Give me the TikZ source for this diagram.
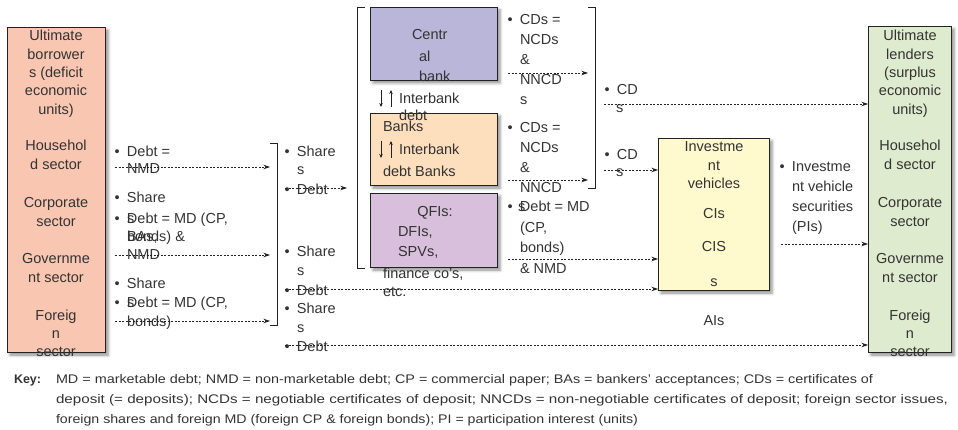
\documentclass[tikz,border=0pt]{standalone}
\usepackage{fontspec}
\setmainfont{Liberation Sans}
\usepackage{graphicx}
\usetikzlibrary{arrows.meta,shadows.blur}
\definecolor{txt}{HTML}{333333}
\definecolor{lc}{HTML}{222222}
\definecolor{cBorrow}{HTML}{F9C6B1}
\definecolor{cLend}{HTML}{DFEBCE}
\definecolor{cCentral}{HTML}{B9B6DA}
\definecolor{cBanks}{HTML}{FDDEBD}
\definecolor{cQFI}{HTML}{D8BFDC}
\definecolor{cInv}{HTML}{FFFACD}
\newcommand\bu{\makebox[12.5pt][l]{•}}
\begin{document}
\begin{tikzpicture}[x=1pt,y=-1pt,
  every node/.style={inner sep=0pt, outer sep=0pt, text=txt, font=\fontsize{14.5}{18.3}\selectfont},
  box/.style={draw=lc, line width=0.9pt, anchor=north west,
    blur shadow={shadow xshift=3pt, shadow yshift=-3pt, shadow blur radius=3pt, shadow opacity=45}},
  flow/.style={draw=lc, line width=0.8pt, dash pattern=on 2pt off 1.5pt, -{Stealth[length=6.5pt,width=4.5pt]}},
  updown/.style={draw=lc, line width=0.8pt, -{Stealth[length=4pt,width=3.5pt]}},
  brk/.style={draw=lc, line width=0.9pt},
  lbl/.style={anchor=base west, align=left},
  ctr/.style={anchor=base, align=center},
  wide/.style={font=\fontsize{14.5}{20}\selectfont},
  keyfont/.style={font=\fontsize{12.5}{20}\selectfont},
]
\useasboundingbox (0,0) rectangle (958,430);

% ---------- boxes ----------
\node[box, fill=cBorrow, minimum width=98pt, minimum height=325pt] (L) at (7,27) {};
\node[box, fill=cLend, minimum width=83pt, minimum height=326pt] (R) at (868,26) {};
\node[box, fill=cCentral, minimum width=127pt, minimum height=73pt] (CB) at (370,7) {};
\node[box, fill=cBanks, minimum width=127pt, minimum height=72pt] (BK) at (370,113) {};
\node[box, fill=cQFI, minimum width=127pt, minimum height=74pt] (QF) at (370,193) {};
\node[box, fill=cInv, minimum width=111pt, minimum height=152pt] (IV) at (658,138) {};

% ---------- left box text (base = last line) ----------
\node[ctr] (Lt1) at (56,114.2) {Ultimate\\borrower\\s (deficit\\economic\\units)};
\node[ctr] (Lt2) at (56,169.3) {Househol\\d sector};
\node[ctr] (Lt3) at (56,226.3) {Corporate\\sector};
\node[ctr] (Lt4) at (56,282.3) {Governme\\nt sector};
\node[ctr] (Lt5) at (56,356.6) {Foreig\\n\\sector};

% ---------- right box text ----------
\node[ctr] (Rt1) at (910,114.2) {Ultimate\\lenders\\(surplus\\economic\\units)};
\node[ctr] (Rt2) at (910,169.3) {Househol\\d sector};
\node[ctr] (Rt3) at (910,226.3) {Corporate\\sector};
\node[ctr] (Rt4) at (910,282.3) {Governme\\nt sector};
\node[ctr] (Rt5) at (910,356.6) {Foreig\\n\\sector};

% ---------- left labels ----------
\node[lbl] (la1) at (114.5,157) {\bu Debt =};
\node[lbl] (la1b) at (127,174) {NMD};
\node[lbl] (la2) at (114.5,203) {\bu Share};
\node[lbl] (la2s) at (127,224) {s};
\node[lbl] (la3) at (114.5,224) {\bu Debt = MD (CP,};
\node[lbl] (la3b) at (127,242) {BAs,};
\node[lbl] (la3c) at (127,242) {bonds) \&};
\node[lbl] (la3d) at (127,260) {NMD};
\node[lbl] (la4) at (114.5,289) {\bu Share};
\node[lbl] (la4s) at (127,308) {s};
\node[lbl] (la5) at (114.5,308) {\bu Debt = MD (CP,};
\node[lbl] (la5b) at (127,326) {bonds)};

\coordinate (a1s) at (115,167); \coordinate (a1e) at (270,167);
\coordinate (a2s) at (115,255); \coordinate (a2e) at (270,255);
\coordinate (a3s) at (115,321); \coordinate (a3e) at (270,321);
\draw[flow] (a1s) -- (a1e);
\draw[flow] (a2s) -- (a2e);
\draw[flow] (a3s) -- (a3e);

% bracket 1
\coordinate (b1a) at (270,143); \coordinate (b1b) at (277,143);
\coordinate (b1c) at (277,325); \coordinate (b1d) at (270,325);
\draw[brk] (b1a) -- (b1b) -- (b1c) -- (b1d);

% ---------- middle column ----------
\node[lbl] (mb1) at (284.5,157) {\bu Share};
\node[lbl] (mb1s) at (297,175) {s};
\node[lbl] (mb2) at (284.5,195) {\bu Debt};
\node[lbl] (mb3) at (284.5,257) {\bu Share};
\node[lbl] (mb3s) at (297,276) {s};
\node[lbl] (mb4) at (284.5,295) {\bu Debt};
\node[lbl] (mb5) at (284.5,313) {\bu Share};
\node[lbl] (mb5s) at (297,332) {s};
\node[lbl] (mb6) at (284.5,351) {\bu Debt};

\coordinate (m1s) at (285,188); \coordinate (m1e) at (347,188);
\coordinate (m2s) at (285,289);
\coordinate (m3s) at (285,345);
\draw[flow] (m1s) -- (m1e);
\draw[flow] (m2s) -- (IV.west |- m2s);
\draw[flow] (m3s) -- (R.west |- m3s);

% bracket 2 (around intermediaries)
\coordinate (b2a) at (365,7); \coordinate (b2b) at (357,7);
\coordinate (b2c) at (357,268); \coordinate (b2d) at (365,268);
\draw[brk] (b2a) -- (b2b) -- (b2c) -- (b2d);

% ---------- central bank / banks / QFIs ----------
\node[lbl] (cbt1) at (412,40) {Centr};
\node[lbl] (cbt2) at (419,62) {al};
\node[lbl] (cbt3) at (419,82) {bank};

\coordinate (ud1a) at (381,90); \coordinate (ud1b) at (381,107);
\coordinate (ud2a) at (391,107); \coordinate (ud2b) at (391,90);
\draw[updown] (ud1a) -- (ud1b);
\draw[updown] (ud2a) -- (ud2b);
\node[lbl] (ib1) at (399,104) {Interbank};
\node[lbl] (ib1b) at (399,121) {debt};

\node[lbl] (bkt1) at (383,132) {Banks};
\coordinate (ud3a) at (381,141); \coordinate (ud3b) at (381,158);
\coordinate (ud4a) at (391,158); \coordinate (ud4b) at (391,141);
\draw[updown] (ud3a) -- (ud3b);
\draw[updown] (ud4a) -- (ud4b);
\node[lbl] (bkt2) at (399,155) {Interbank};
\node[lbl] (bkt3) at (383,177) {debt Banks};

\node[ctr] (qf1) at (435,217) {QFIs:};
\node[lbl] (qf2) at (398,237) {DFIs,};
\node[lbl] (qf3) at (398,257) {SPVs,};
\node[lbl] (qf4) at (383,279) {finance co's,};
\node[lbl] (qf5) at (383,297) {etc.};

% ---------- right of intermediaries ----------
\node[lbl] (cd1) at (507.5,25) {\bu CDs =};
\node[lbl, wide] (cd1b) at (520,105) {NCDs\\\&\\NNCD\\s};
\node[lbl] (cd2) at (507.5,133) {\bu CDs =};
\node[lbl, wide] (cd2b) at (520,193) {NCDs\\\&\\NNCD};
\node[lbl] (cd2s) at (518,212) {s};
\node[lbl] (dq1) at (507.5,212) {\bu Debt = MD};
\node[lbl, wide] (dq1b) at (520,253) {(CP,\\bonds)};
\node[lbl] (dq1c) at (520,273) {\& NMD};

\coordinate (c1s) at (508,73); \coordinate (c1e) at (588,73);
\coordinate (c2s) at (508,180); \coordinate (c2e) at (588,180);
\coordinate (q1s) at (508,259);
\draw[flow] (c1s) -- (c1e);
\draw[flow] (c2s) -- (c2e);
\draw[flow] (q1s) -- (IV.west |- q1s);

% bracket 3
\coordinate (b3a) at (588,7); \coordinate (b3b) at (595,7);
\coordinate (b3c) at (595,188); \coordinate (b3d) at (588,188);
\draw[brk] (b3a) -- (b3b) -- (b3c) -- (b3d);

\node[lbl] (cd3) at (604.5,95) {\bu CD};
\node[lbl] (cd3s) at (616,113) {s};
\node[lbl] (cd4) at (604.5,160) {\bu CD};
\node[lbl] (cd4s) at (616,177) {s};
\coordinate (d1s) at (604,104);
\coordinate (d2s) at (604,170);
\draw[flow] (d1s) -- (R.west |- d1s);
\draw[flow] (d2s) -- (IV.west |- d2s);

% ---------- investment vehicles ----------
\node[ctr] (iv1) at (714,188.6) {Investme\\nt\\vehicles};
\node[ctr] (iv2) at (714,219) {CIs};
\node[ctr] (iv3) at (714,252) {CIS};
\node[ctr] (iv4) at (714,287) {s};
\node[ctr] (iv5) at (714,325) {AIs};

\node[lbl] (pi1) at (779.5,172) {\bu Investme};
\node[lbl, wide] (pi2) at (792,232) {nt vehicle\\securities\\(PIs)};
\coordinate (p1s) at (781,244);
\draw[flow] (p1s) -- (R.west |- p1s);

% ---------- key ----------
\node[anchor=base west, font=\bfseries\fontsize{12.5}{20}\selectfont] (key) at (14,383) {Key:};
\node[anchor=base west, keyfont] (k1) at (56,383) {\resizebox{817pt}{\height}{MD = marketable debt; NMD = non-marketable debt; CP = commercial paper; BAs = bankers’ acceptances; CDs = certificates of}};
\node[anchor=base west, keyfont] (k2) at (56,403) {\resizebox{892pt}{\height}{deposit (= deposits); NCDs = negotiable certificates of deposit; NNCDs = non-negotiable certificates of deposit; foreign sector issues,}};
\node[anchor=base west, keyfont] (k3) at (56,423) {\resizebox{582pt}{\height}{foreign shares and foreign MD (foreign CP \& foreign bonds); PI = participation interest (units)}};
\end{tikzpicture}
\end{document}
